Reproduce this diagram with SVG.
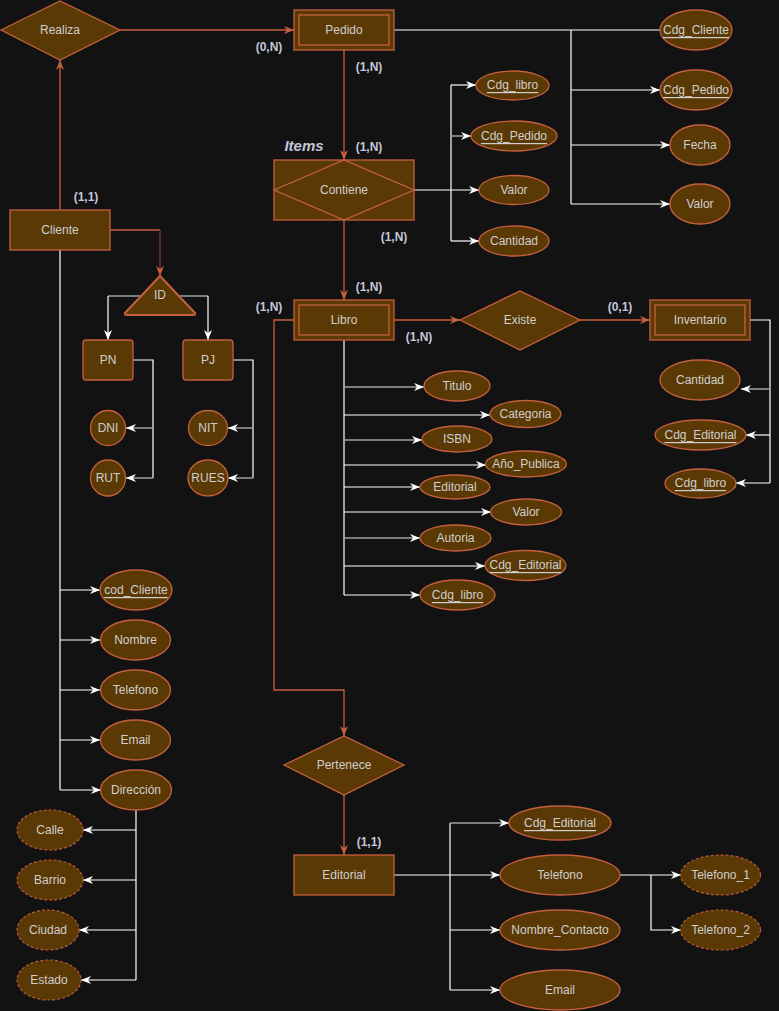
<svg xmlns="http://www.w3.org/2000/svg" width="779" height="1011" viewBox="0 0 779 1011">
  <style>
    .bg { fill: #121212; }
    .ent { fill: #5A3905; stroke: #C5603F; stroke-width: 1.3; }
    .inner { fill: none; stroke: #C5603F; stroke-width: 1.3; }
    .attr { fill: #5A3905; stroke: #C5603F; stroke-width: 1.3; }
    .multi { fill: #5A3905; stroke: #B85A3A; stroke-width: 1.2; stroke-dasharray: 3 2; }
    .t { font-family: "Liberation Sans", Arial, sans-serif; font-size: 12px; fill: #CFCFCF; text-anchor: middle; dominant-baseline: central; }
    .u { text-decoration: underline; }
    .card { font-family: "Liberation Sans", Arial, sans-serif; font-size: 12px; font-weight: bold; fill: #C3C6DA; text-anchor: middle; dominant-baseline: central; }
    .role { font-family: "Liberation Sans", Arial, sans-serif; font-size: 15px; font-weight: bold; font-style: italic; fill: #C3C6DA; text-anchor: middle; dominant-baseline: central; }
    .rel { fill: none; stroke: #C5603F; stroke-width: 1.3; }
    .relDark { fill: none; stroke: #7A3A2C; stroke-width: 1.3; }
    .lnk { fill: none; stroke: #FFFFFF; stroke-width: 1.2; }
    .dim { fill: none; stroke: #A0A0A0; stroke-width: 1.5; }
  </style>
  <defs>
    <marker id="arrW" markerUnits="userSpaceOnUse" markerWidth="11" markerHeight="9" refX="10" refY="4.5" orient="auto">
      <path d="M0,0.5 L10,4.5 L0,8.5 L3,4.5 Z" fill="#FFFFFF"/>
    </marker>
    <marker id="arrO" markerUnits="userSpaceOnUse" markerWidth="11" markerHeight="9" refX="10" refY="4.5" orient="auto">
      <path d="M0,0.5 L10,4.5 L0,8.5 L3,4.5 Z" fill="#C5603F"/>
    </marker>
  </defs>

  <rect class="bg" x="0" y="0" width="779" height="1011"/>

  <!-- connectors -->
  <g id="connectors">
    <!-- relationships (orange) -->
    <path class="rel" d="M60,210 V60" marker-end="url(#arrO)"/>
    <path class="rel" d="M120,30 H294" marker-end="url(#arrO)"/>
    <path class="rel" d="M344,50 V160" marker-end="url(#arrO)"/>
    <path class="rel" d="M344,220 V300" marker-end="url(#arrO)"/>
    <path class="rel" d="M394,320 H460" marker-end="url(#arrO)"/>
    <path class="rel" d="M580,320 H650" marker-end="url(#arrO)"/>
    <path class="rel" d="M294,320 H274 V690 H344 V736" marker-end="url(#arrO)"/>
    <path class="rel" d="M344,795 V855" marker-end="url(#arrO)"/>
    <path class="rel" d="M110,230 H160"/>
    <path class="relDark" d="M160,230 V276" marker-end="url(#arrO)"/>

    <!-- Pedido attributes -->
    <path class="lnk" d="M394,30 H660"/>
    <path class="lnk" d="M571,30 V204"/>
    <path class="lnk" d="M571,90 H660" marker-end="url(#arrW)"/>
    <path class="lnk" d="M571,145 H670" marker-end="url(#arrW)"/>
    <path class="lnk" d="M571,204 H670" marker-end="url(#arrW)"/>

    <!-- Contiene attributes -->
    <path class="lnk" d="M414,190 H479" marker-end="url(#arrW)"/>
    <path class="lnk" d="M451,85 V241"/>
    <path class="lnk" d="M451,85 H476" marker-end="url(#arrW)"/>
    <path class="dim" d="M451,136 H471" marker-end="url(#arrW)"/>
    <path class="lnk" d="M451,241 H479" marker-end="url(#arrW)"/>

    <!-- Libro attributes -->
    <path class="lnk" d="M344,340 V595"/>
    <path class="dim" d="M344,387 H424" marker-end="url(#arrW)"/>
    <path class="lnk" d="M344,415 H490" marker-end="url(#arrW)"/>
    <path class="dim" d="M344,440 H422" marker-end="url(#arrW)"/>
    <path class="lnk" d="M344,465 H486" marker-end="url(#arrW)"/>
    <path class="lnk" d="M344,487 H420" marker-end="url(#arrW)"/>
    <path class="lnk" d="M344,512 H491" marker-end="url(#arrW)"/>
    <path class="dim" d="M344,538 H420" marker-end="url(#arrW)"/>
    <path class="lnk" d="M344,566 H485" marker-end="url(#arrW)"/>
    <path class="lnk" d="M344,595 H420" marker-end="url(#arrW)"/>

    <!-- Inventario attributes -->
    <path class="lnk" d="M750,320 H770 V483"/>
    <path class="dim" d="M770,389 H741" marker-end="url(#arrW)"/>
    <path class="lnk" d="M770,435 H746" marker-end="url(#arrW)"/>
    <path class="lnk" d="M770,483 H736" marker-end="url(#arrW)"/>

    <!-- ID specialisation -->
    <path class="dim" d="M141,296 H108"/>
    <path class="lnk" d="M108,296 V340" marker-end="url(#arrW)"/>
    <path class="dim" d="M179,296 H208"/>
    <path class="lnk" d="M208,296 V340" marker-end="url(#arrW)"/>

    <!-- PN / PJ attributes -->
    <path class="lnk" d="M133,360 H153 V478"/>
    <path class="dim" d="M153,428 H126" marker-end="url(#arrW)"/>
    <path class="dim" d="M153,478 H126" marker-end="url(#arrW)"/>
    <path class="lnk" d="M233,360 H253 V478"/>
    <path class="dim" d="M253,428 H228" marker-end="url(#arrW)"/>
    <path class="dim" d="M253,478 H228" marker-end="url(#arrW)"/>

    <!-- Cliente attributes -->
    <path class="lnk" d="M60,250 V790"/>
    <path class="lnk" d="M60,590 H100" marker-end="url(#arrW)"/>
    <path class="lnk" d="M60,640 H100" marker-end="url(#arrW)"/>
    <path class="lnk" d="M60,690 H100" marker-end="url(#arrW)"/>
    <path class="lnk" d="M60,740 H100" marker-end="url(#arrW)"/>
    <path class="lnk" d="M60,790 H101" marker-end="url(#arrW)"/>

    <!-- Direccion components -->
    <path class="lnk" d="M136,810 V980"/>
    <path class="lnk" d="M136,830 H83" marker-end="url(#arrW)"/>
    <path class="lnk" d="M136,880 H83" marker-end="url(#arrW)"/>
    <path class="lnk" d="M136,930 H79" marker-end="url(#arrW)"/>
    <path class="lnk" d="M136,980 H81" marker-end="url(#arrW)"/>

    <!-- Editorial attributes -->
    <path class="lnk" d="M394,875 H500" marker-end="url(#arrW)"/>
    <path class="lnk" d="M450,823 V990"/>
    <path class="dim" d="M450,823 H509" marker-end="url(#arrW)"/>
    <path class="lnk" d="M450,930 H500" marker-end="url(#arrW)"/>
    <path class="lnk" d="M450,990 H500" marker-end="url(#arrW)"/>

    <!-- Telefono components -->
    <path class="lnk" d="M620,875 H681" marker-end="url(#arrW)"/>
    <path class="lnk" d="M651,875 V930 H681" marker-end="url(#arrW)"/>
  </g>

  <!-- relationships -->
  <g id="realiza">
    <polygon class="ent" points="1,30 60,1 120,30 60,60"/>
    <text class="t" x="60" y="30">Realiza</text>
  </g>
  <g id="contiene">
    <rect class="ent" x="274" y="160" width="140" height="60"/>
    <polygon class="inner" points="274,190 344,160 414,190 344,220"/>
    <text class="t" x="344" y="190">Contiene</text>
  </g>
  <g id="existe">
    <polygon class="ent" points="460,320 520,291 580,320 520,350"/>
    <text class="t" x="520" y="320">Existe</text>
  </g>
  <g id="pertenece">
    <polygon class="ent" points="284,765 344,736 404,765 344,795"/>
    <text class="t" x="344" y="765">Pertenece</text>
  </g>

  <!-- entities -->
  <g id="pedido">
    <rect class="ent" x="294" y="10" width="100" height="40"/>
    <rect class="inner" x="299" y="15" width="90" height="30"/>
    <text class="t" x="344" y="30">Pedido</text>
  </g>
  <g id="libro">
    <rect class="ent" x="294" y="300" width="100" height="40"/>
    <rect class="inner" x="299" y="305" width="90" height="30"/>
    <text class="t" x="344" y="320">Libro</text>
  </g>
  <g id="inventario">
    <rect class="ent" x="650" y="300" width="100" height="40"/>
    <rect class="inner" x="655" y="305" width="90" height="30"/>
    <text class="t" x="700" y="320">Inventario</text>
  </g>
  <g id="cliente">
    <rect class="ent" x="10" y="210" width="100" height="40"/>
    <text class="t" x="60" y="230">Cliente</text>
  </g>
  <g id="editorial">
    <rect class="ent" x="294" y="855" width="100" height="40"/>
    <text class="t" x="344" y="875">Editorial</text>
  </g>

  <!-- specialisation -->
  <g id="id">
    <path class="ent" style="stroke-width:2" stroke-linejoin="round" d="M160,276 L195,313 Q196,315 193,315 L127,315 Q124,315 125,313 Z"/>
    <text class="t" x="160" y="295">ID</text>
  </g>
  <g id="pn">
    <rect class="ent" x="83" y="340" width="50" height="40" rx="3"/>
    <text class="t" x="108" y="360">PN</text>
  </g>
  <g id="pj">
    <rect class="ent" x="183" y="340" width="50" height="40" rx="3"/>
    <text class="t" x="208" y="360">PJ</text>
  </g>
  <g id="dni">
    <ellipse class="attr" cx="108" cy="428" rx="17.5" ry="17.5"/>
    <text class="t" x="108" y="428">DNI</text>
  </g>
  <g id="rut">
    <ellipse class="attr" cx="108" cy="478" rx="17.5" ry="18"/>
    <text class="t" x="108" y="478">RUT</text>
  </g>
  <g id="nit">
    <ellipse class="attr" cx="208" cy="428" rx="19.5" ry="17.5"/>
    <text class="t" x="208" y="428">NIT</text>
  </g>
  <g id="rues">
    <ellipse class="attr" cx="208" cy="478" rx="20" ry="18"/>
    <text class="t" x="208" y="478">RUES</text>
  </g>

  <!-- Pedido attributes -->
  <g id="pedido-cdg-cliente">
    <ellipse class="attr" cx="696" cy="30" rx="36" ry="20"/>
    <text class="t u" x="696" y="30">Cdg_Cliente</text>
  </g>
  <g id="pedido-cdg-pedido">
    <ellipse class="attr" cx="696" cy="90" rx="36" ry="20"/>
    <text class="t u" x="696" y="90">Cdg_Pedido</text>
  </g>
  <g id="pedido-fecha">
    <ellipse class="attr" cx="700" cy="145" rx="30" ry="20"/>
    <text class="t" x="700" y="145">Fecha</text>
  </g>
  <g id="pedido-valor">
    <ellipse class="attr" cx="700" cy="204" rx="30" ry="20"/>
    <text class="t" x="700" y="204">Valor</text>
  </g>

  <!-- Contiene attributes -->
  <g id="contiene-cdg-libro">
    <ellipse class="attr" cx="512.5" cy="85.5" rx="36.5" ry="14.5"/>
    <text class="t u" x="512.5" y="85">Cdg_libro</text>
  </g>
  <g id="contiene-cdg-pedido">
    <ellipse class="attr" cx="514" cy="136" rx="43" ry="15"/>
    <text class="t u" x="514" y="136">Cdg_Pedido</text>
  </g>
  <g id="contiene-valor">
    <ellipse class="attr" cx="514" cy="190" rx="35" ry="14.5"/>
    <text class="t" x="514" y="190">Valor</text>
  </g>
  <g id="contiene-cantidad">
    <ellipse class="attr" cx="514" cy="241" rx="35" ry="15"/>
    <text class="t" x="514" y="241">Cantidad</text>
  </g>

  <!-- Libro attributes -->
  <g id="libro-titulo">
    <ellipse class="attr" cx="457" cy="386" rx="33" ry="15"/>
    <text class="t" x="457" y="386">Titulo</text>
  </g>
  <g id="libro-categoria">
    <ellipse class="attr" cx="525.5" cy="414" rx="35.5" ry="13.5"/>
    <text class="t" x="525.5" y="414">Categoria</text>
  </g>
  <g id="libro-isbn">
    <ellipse class="attr" cx="457" cy="439" rx="35" ry="13"/>
    <text class="t" x="457" y="439">ISBN</text>
  </g>
  <g id="libro-anio">
    <ellipse class="attr" cx="526" cy="464" rx="40.5" ry="13"/>
    <text class="t" x="526" y="464">Año_Publica</text>
  </g>
  <g id="libro-editorial">
    <ellipse class="attr" cx="455" cy="487" rx="35" ry="12"/>
    <text class="t" x="455" y="487">Editorial</text>
  </g>
  <g id="libro-valor">
    <ellipse class="attr" cx="526" cy="512" rx="35.5" ry="13"/>
    <text class="t" x="526" y="512">Valor</text>
  </g>
  <g id="libro-autoria">
    <ellipse class="attr" cx="455.5" cy="538" rx="35.5" ry="13"/>
    <text class="t" x="455.5" y="538">Autoria</text>
  </g>
  <g id="libro-cdg-editorial">
    <ellipse class="attr" cx="525.5" cy="565.5" rx="40.5" ry="15"/>
    <text class="t u" x="525.5" y="565">Cdg_Editorial</text>
  </g>
  <g id="libro-cdg-libro">
    <ellipse class="attr" cx="457.5" cy="595" rx="37.5" ry="15"/>
    <text class="t u" x="457.5" y="595">Cdg_libro</text>
  </g>

  <!-- Inventario attributes -->
  <g id="inventario-cantidad">
    <ellipse class="attr" cx="700" cy="380" rx="40" ry="20"/>
    <text class="t" x="700" y="380">Cantidad</text>
  </g>
  <g id="inventario-cdg-editorial">
    <ellipse class="attr" cx="700.5" cy="435" rx="45.5" ry="15"/>
    <text class="t u" x="700.5" y="435">Cdg_Editorial</text>
  </g>
  <g id="inventario-cdg-libro">
    <ellipse class="attr" cx="700.5" cy="483.5" rx="35.5" ry="14.5"/>
    <text class="t u" x="700.5" y="483">Cdg_libro</text>
  </g>

  <!-- Cliente attributes -->
  <g id="cliente-cod">
    <ellipse class="attr" cx="136" cy="590" rx="36" ry="20"/>
    <text class="t u" x="136" y="590">cod_Cliente</text>
  </g>
  <g id="cliente-nombre">
    <ellipse class="attr" cx="135.5" cy="640" rx="35" ry="20"/>
    <text class="t" x="135.5" y="640">Nombre</text>
  </g>
  <g id="cliente-telefono">
    <ellipse class="attr" cx="135.5" cy="690" rx="35" ry="20"/>
    <text class="t" x="135.5" y="690">Telefono</text>
  </g>
  <g id="cliente-email">
    <ellipse class="attr" cx="135.5" cy="740" rx="35" ry="20"/>
    <text class="t" x="135.5" y="740">Email</text>
  </g>
  <g id="cliente-direccion">
    <ellipse class="attr" cx="136" cy="790" rx="35.5" ry="20"/>
    <text class="t" x="136" y="790">Dirección</text>
  </g>

  <!-- Direccion components -->
  <g id="dir-calle">
    <ellipse class="multi" cx="50" cy="830" rx="33" ry="20"/>
    <text class="t" x="50" y="830">Calle</text>
  </g>
  <g id="dir-barrio">
    <ellipse class="multi" cx="50" cy="880" rx="33" ry="20"/>
    <text class="t" x="50" y="880">Barrio</text>
  </g>
  <g id="dir-ciudad">
    <ellipse class="multi" cx="48" cy="930" rx="31" ry="20"/>
    <text class="t" x="48" y="930">Ciudad</text>
  </g>
  <g id="dir-estado">
    <ellipse class="multi" cx="49" cy="980" rx="32" ry="20"/>
    <text class="t" x="49" y="980">Estado</text>
  </g>

  <!-- Editorial attributes -->
  <g id="editorial-cdg">
    <ellipse class="attr" cx="560" cy="823" rx="51" ry="17"/>
    <text class="t u" x="560" y="823">Cdg_Editorial</text>
  </g>
  <g id="editorial-telefono">
    <ellipse class="attr" cx="560" cy="875" rx="60" ry="20"/>
    <text class="t" x="560" y="875">Telefono</text>
  </g>
  <g id="editorial-contacto">
    <ellipse class="attr" cx="560" cy="930" rx="60" ry="20"/>
    <text class="t" x="560" y="930">Nombre_Contacto</text>
  </g>
  <g id="editorial-email">
    <ellipse class="attr" cx="560" cy="990" rx="60" ry="20"/>
    <text class="t" x="560" y="990">Email</text>
  </g>
  <g id="telefono-1">
    <ellipse class="multi" cx="720.5" cy="875" rx="40" ry="20"/>
    <text class="t" x="720.5" y="875">Telefono_1</text>
  </g>
  <g id="telefono-2">
    <ellipse class="multi" cx="720.5" cy="930" rx="40" ry="20"/>
    <text class="t" x="720.5" y="930">Telefono_2</text>
  </g>

  <!-- cardinalities and role -->
  <g id="labels">
    <text class="role" x="304" y="145">Items</text>
    <text class="card" x="269" y="47">(0,N)</text>
    <text class="card" x="369" y="67">(1,N)</text>
    <text class="card" x="369" y="147">(1,N)</text>
    <text class="card" x="394" y="237">(1,N)</text>
    <text class="card" x="369" y="287">(1,N)</text>
    <text class="card" x="269" y="307">(1,N)</text>
    <text class="card" x="419" y="337">(1,N)</text>
    <text class="card" x="620" y="307">(0,1)</text>
    <text class="card" x="86" y="197">(1,1)</text>
    <text class="card" x="369" y="842">(1,1)</text>
  </g>
</svg>
